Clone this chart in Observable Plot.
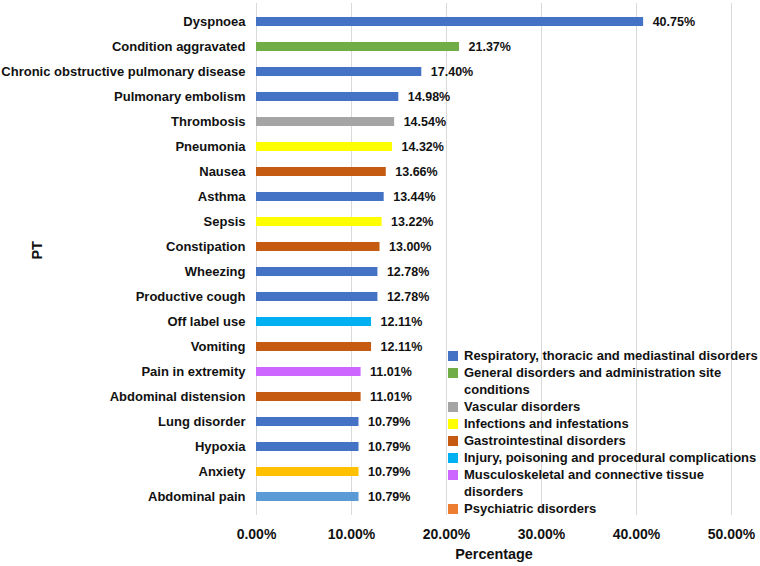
<!DOCTYPE html>
<html>
<head>
<meta charset="utf-8">
<script src="https://cdn.jsdelivr.net/npm/d3@7"></script>
<script src="https://cdn.jsdelivr.net/npm/@observablehq/plot@0.6"></script>
<style>
  html, body { margin: 0; padding: 0; background: #fff; }
  #wrap { position: relative; width: 760px; height: 566px; font-family: "Liberation Sans", Arial, sans-serif; }
  #legend { position: absolute; left: 448px; top: 347px; font-weight: bold; font-size: 13px; line-height: 17px; color: #111; }
  .item { display: flex; align-items: flex-start; }
  .sw { width: 10px; height: 10px; margin-top: 3.5px; margin-right: 6px; flex: none; }
  .lab { max-width: 300px; }
</style>
</head>
<body>
<div id="wrap"></div>
<script>
// Preferred terms, in display order (top to bottom)
const pts = [
  "Dyspnoea", "Condition aggravated", "Chronic obstructive pulmonary disease",
  "Pulmonary embolism", "Thrombosis", "Pneumonia", "Nausea", "Asthma", "Sepsis",
  "Constipation", "Wheezing", "Productive cough", "Off label use", "Vomiting",
  "Pain in extremity", "Abdominal distension", "Lung disorder", "Hypoxia",
  "Anxiety", "Abdominal pain"
];
// Percentage of reports for each preferred term
const percentages = [
  40.75, 21.37, 17.40, 14.98, 14.54, 14.32, 13.66, 13.44, 13.22, 13.00,
  12.78, 12.78, 12.11, 12.11, 11.01, 11.01, 10.79, 10.79, 10.79, 10.79
];
// System organ classes (legend order)
const socs = [
  "Respiratory, thoracic and mediastinal disorders",
  "General disorders and administration site conditions",
  "Vascular disorders",
  "Infections and infestations",
  "Gastrointestinal disorders",
  "Injury, poisoning and procedural complications",
  "Musculoskeletal and connective tissue disorders",
  "Psychiatric disorders"
];
// Index into socs for each preferred term
const socOfPt = [0, 1, 0, 0, 2, 3, 4, 0, 3, 4, 0, 0, 5, 4, 6, 4, 0, 0, 7, 4];
// Tick values for the x axis
const xTicks = [0, 10, 20, 30, 40, 50];

// Colours
const socColors = ["#4472C4", "#70AD47", "#A5A5A5", "#FFFF00", "#C55A11", "#00B0F0", "#CC66FF", "#ED7D31"];
const barColorOverride = { "Anxiety": "#FFC000", "Abdominal pain": "#5B9BD5" };

const rows = pts.map((pt, i) => ({
  pt,
  pct: percentages[i],
  fill: barColorOverride[pt] ?? socColors[socOfPt[i]]
}));

const fmt = v => v.toFixed(2) + "%";

const chart = Plot.plot({
  width: 760,
  height: 566,
  marginLeft: 256,
  marginRight: 29,
  marginTop: 3,
  marginBottom: 51,
  style: { fontFamily: "'Liberation Sans', Arial, sans-serif", fontWeight: "bold", color: "#111", background: "#fff" },
  x: { domain: [0, 50] },
  y: { domain: pts, paddingInner: 0.65, paddingOuter: 0.325 },
  color: { type: "identity" },
  marks: [
    Plot.gridX(xTicks, { stroke: "#d9d9d9", strokeOpacity: 1, strokeWidth: 1 }),
    Plot.barX(rows, { x: "pct", y: "pt", fill: "fill" }),
    Plot.text(rows, { x: "pct", y: "pt", text: d => fmt(d.pct), textAnchor: "start", dx: 9, fontSize: 12.5, fill: "#111" }),
    Plot.axisY({ tickSize: 0, tickPadding: 11, fontSize: 13, label: null }),
    Plot.axisX(xTicks, { tickSize: 0, tickPadding: 14, fontSize: 14, tickFormat: fmt, label: null }),
    Plot.text(["Percentage"], { frameAnchor: "bottom", dy: 39, lineAnchor: "middle", fontSize: 14.4, fill: "#111" }),
    Plot.text(["PT"], { frameAnchor: "left", dx: -219, rotate: -90, lineAnchor: "middle", fontSize: 14.4, fill: "#111" })
  ]
});

const wrap = document.getElementById("wrap");
wrap.appendChild(chart);

// Legend of system organ classes, laid over the lower right of the plot
const legend = document.createElement("div");
legend.id = "legend";
socs.forEach((s, i) => {
  const item = document.createElement("div");
  item.className = "item";
  const sw = document.createElement("span");
  sw.className = "sw";
  sw.style.background = socColors[i];
  const lab = document.createElement("span");
  lab.className = "lab";
  lab.textContent = s;
  item.append(sw, lab);
  legend.appendChild(item);
});
wrap.appendChild(legend);
</script>
</body>
</html>
